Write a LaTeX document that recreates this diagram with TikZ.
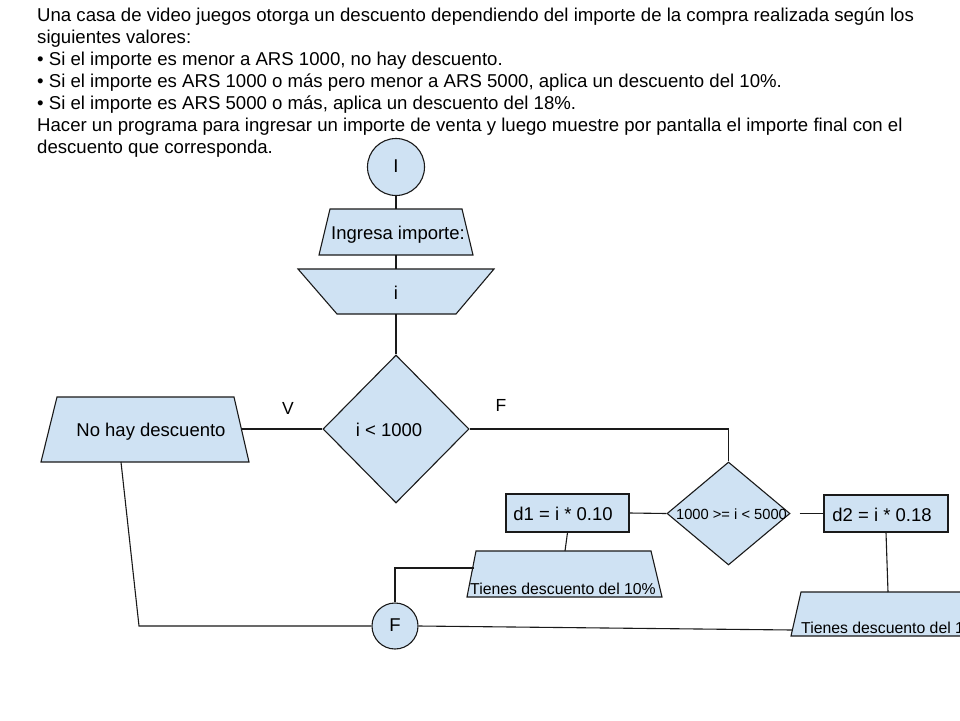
\documentclass[tikz,border=0pt]{standalone}
\usepackage{fontspec}
\setmainfont{Liberation Sans}
\usetikzlibrary{shapes.geometric,calc}
\definecolor{boxfill}{HTML}{CFE2F3}
\definecolor{linecol}{HTML}{1A1A1A}
\tikzset{
  shp/.style={draw=linecol,fill=boxfill,line width=1.1pt,inner sep=0pt},
  conn/.style={draw=linecol,line width=1.1pt},
  txt/.style={inner sep=0pt,anchor=base,font=\fontsize{18.5}{22}\selectfont},
  head/.style={inner sep=0pt,anchor=base west,font=\fontsize{18.6}{22}\selectfont},
}
\begin{document}
\begin{tikzpicture}[x=1pt,y=-1pt]
\useasboundingbox (0,0) rectangle (960,720);
\clip (0,0) rectangle (960,720);
\fill[white] (0,0) rectangle (960,720);
% header
\node[head] (h1) at (37,21) {Una casa de video juegos otorga un descuento dependiendo del importe de la compra realizada según los};
\node[head] (h2) at (37,43) {siguientes valores:};
\node[head] (h3) at (37,65) {• Si el importe es menor a ARS 1000, no hay descuento.};
\node[head] (h4) at (37,87) {• Si el importe es ARS 1000 o más pero menor a ARS 5000, aplica un descuento del 10\%.};
\node[head] (h5) at (37,109) {• Si el importe es ARS 5000 o más, aplica un descuento del 18\%.};
\node[head] (h6) at (37,131) {Hacer un programa para ingresar un importe de venta y luego muestre por pantalla el importe final con el};
\node[head] (h7) at (37,153) {descuento que corresponda.};
% trapezoid corners
\coordinate (ingTL) at (330,209); \coordinate (ingTR) at (462,209);
\coordinate (ingBR) at (473,255); \coordinate (ingBL) at (319,255);
\coordinate (ingN) at (396,209); \coordinate (ingS) at (396,255);
\coordinate (inpTL) at (298,269); \coordinate (inpTR) at (494,269);
\coordinate (inpBR) at (456,314); \coordinate (inpBL) at (337,314);
\coordinate (inpN) at (396,269); \coordinate (inpS) at (396,314);
\coordinate (nhTL) at (57,397); \coordinate (nhTR) at (234,397);
\coordinate (nhBR) at (249,462); \coordinate (nhBL) at (41,462);
\coordinate (nhE) at (242,429); \coordinate (nhS) at (121,462);
\coordinate (t10TL) at (476,551); \coordinate (t10TR) at (651,551);
\coordinate (t10BR) at (662,597); \coordinate (t10BL) at (467,597);
\coordinate (t10N) at (565,551); \coordinate (t10W) at (474,568);
\coordinate (t18TL) at (801,592); \coordinate (t18TR) at (976,592);
\coordinate (t18BR) at (987,636); \coordinate (t18BL) at (791,636);
\coordinate (t18N) at (888,592); \coordinate (t18W) at (792.5,630);
% shapes
\node[shp,circle,minimum size=57pt] (ini) at (396,167) {};
\node[txt] (iniT) at (396,172.5) {I};
\path[shp] (ingTL) -- (ingTR) -- (ingBR) -- (ingBL) -- cycle;
\node[txt] (ingT) at (398,239) {Ingresa importe:};
\path[shp] (inpTL) -- (inpTR) -- (inpBR) -- (inpBL) -- cycle;
\node[txt] (inpT) at (396,299) {i};
\node[shp,diamond,minimum width=146pt,minimum height=148pt] (dec1) at (396,429) {};
\node[txt] (dec1T) at (389,436) {i < 1000};
\path[shp] (nhTL) -- (nhTR) -- (nhBR) -- (nhBL) -- cycle;
\node[txt] (nhT) at (151,436) {No hay descuento};
\node[shp,diamond,minimum width=123pt,minimum height=103pt] (dec2) at (728.5,513.5) {};
\node[txt,font=\fontsize{14.7}{17}\selectfont] (dec2T) at (731.5,519) {1000 >= i < 5000};
\node[shp,rectangle,minimum width=123pt,minimum height=38pt] (d1) at (567.5,513) {};
\node[txt] (d1T) at (563,520) {d1 = i * 0.10};
\node[shp,rectangle,minimum width=124pt,minimum height=37pt] (d2) at (886,513.5) {};
\node[txt] (d2T) at (882,521) {d2 = i * 0.18};
\path[shp] (t10TL) -- (t10TR) -- (t10BR) -- (t10BL) -- cycle;
\node[txt,font=\fontsize{15.8}{18}\selectfont] (t10T) at (563,594) {Tienes descuento del 10\%};
\path[shp] (t18TL) -- (t18TR) -- (t18BR) -- (t18BL) -- cycle;
\node[txt,anchor=base west,font=\fontsize{15.8}{18}\selectfont] (t18T) at (801,633) {Tienes descuento del 18\%};
\node[shp,circle,minimum size=46pt] (fin) at (395,626) {};
\node[txt] (finT) at (395,631) {F};
% labels
\node[txt,font=\fontsize{17.5}{20}\selectfont] (lv) at (288,414) {V};
\node[txt,font=\fontsize{17.5}{20}\selectfont] (lf) at (501,411) {F};
% connectors
\draw[conn] (ini.south) -- (ingN);
\draw[conn] (ingS) -- (inpN);
\draw[conn] (inpS) -- (dec1.north);
\draw[conn] (dec1.west) -- (nhE);
\draw[conn] (dec1.east) -| (dec2.north);
\draw[conn] (dec2.west) -- (d1.east);
\draw[conn,shorten <=9pt] (dec2.east) -- (d2.west);
\draw[conn] (d1.south) -- (t10N);
\draw[conn] (d2.south) -- (t18N);
\coordinate (c1) at (139,626);
\draw[conn] (nhS) -- (c1) -- (fin.west);
\draw[conn] (t10W) -| (fin.north);
\draw[conn] (fin.east) -- (t18W);
\end{tikzpicture}
\end{document}
